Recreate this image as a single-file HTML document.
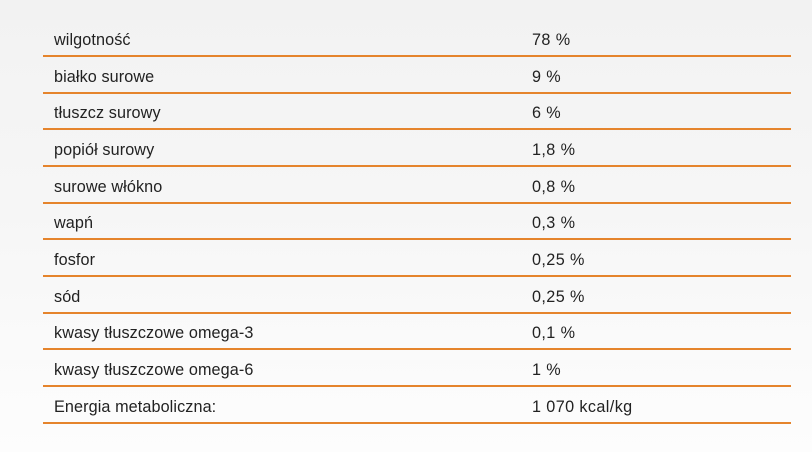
<!DOCTYPE html>
<html>
<head>
<meta charset="utf-8">
<style>
  html, body { margin:0; padding:0; }
  body {
    width:812px; height:452px; overflow:hidden;
    background: linear-gradient(to bottom, #f2f2f2 0%, #f6f6f6 45%, #fdfdfd 100%);
    font-family: "Liberation Sans", Arial, sans-serif;
    font-size:16.2px;
    color:#222;
    position:relative;
  }
  .tbl { position:absolute; left:43px; top:20.3px; width:748px; }
  .row {
    position:relative;
    height:34.7px;
    border-bottom:2px solid #e5842c;
  }
  .row span {
    position:absolute;
    top:4.7px;
    line-height:30px;
    white-space:nowrap;
    letter-spacing:0.1px;
  }
  .k { left:11px; }
  .v { left:489px; letter-spacing:0.4px !important; }
</style>
</head>
<body>
<div class="tbl">
  <div class="row"><span class="k">wilgotność</span><span class="v">78 %</span></div>
  <div class="row"><span class="k">białko surowe</span><span class="v">9 %</span></div>
  <div class="row"><span class="k">tłuszcz surowy</span><span class="v">6 %</span></div>
  <div class="row"><span class="k">popiół surowy</span><span class="v">1,8 %</span></div>
  <div class="row"><span class="k">surowe włókno</span><span class="v">0,8 %</span></div>
  <div class="row"><span class="k">wapń</span><span class="v">0,3 %</span></div>
  <div class="row"><span class="k">fosfor</span><span class="v">0,25 %</span></div>
  <div class="row"><span class="k">sód</span><span class="v">0,25 %</span></div>
  <div class="row"><span class="k">kwasy tłuszczowe omega-3</span><span class="v">0,1 %</span></div>
  <div class="row"><span class="k">kwasy tłuszczowe omega-6</span><span class="v">1 %</span></div>
  <div class="row"><span class="k">Energia metaboliczna:</span><span class="v">1 070 kcal/kg</span></div>
</div>
</body>
</html>
